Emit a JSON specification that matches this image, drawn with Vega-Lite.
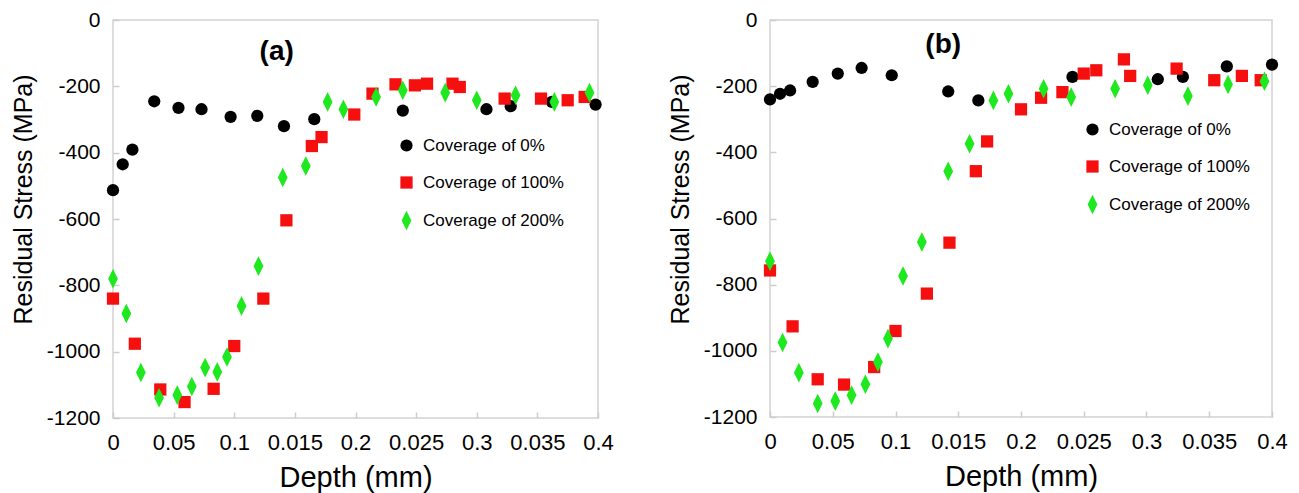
{
  "$schema": "https://vega.github.io/schema/vega-lite/v6.json",
  "background": "white",
  "padding": {"left": 10, "top": 8, "right": 5, "bottom": 0},
  "spacing": 52,
  "config": {
    "font": "Liberation Sans",
    "view": {"stroke": "#d2d2d2", "strokeWidth": 1.5},
    "axis": {
      "labelFont": "Liberation Sans", "labelColor": "#000000",
      "titleFont": "Liberation Sans", "titleFontWeight": "normal", "titleColor": "#000000",
      "domain": false, "grid": false, "ticks": true, "tickColor": "#cccccc", "tickSize": -6, "tickWidth": 1.5
    },
    "legend": {
      "title": null, "orient": "none", "labelFont": "Liberation Sans", "labelFontSize": 17, "labelColor": "#000000",
      "symbolSize": 150, "rowPadding": 19, "labelOffset": 8, "padding": 0
    }
  },
  "datasets": {
    "pts": [
      {"p":"a","s":"Coverage of 0%","d":0,"r":-513},
      {"p":"a","s":"Coverage of 0%","d":0.008,"r":-435},
      {"p":"a","s":"Coverage of 0%","d":0.016,"r":-391},
      {"p":"a","s":"Coverage of 0%","d":0.034,"r":-245},
      {"p":"a","s":"Coverage of 0%","d":0.054,"r":-265},
      {"p":"a","s":"Coverage of 0%","d":0.073,"r":-269},
      {"p":"a","s":"Coverage of 0%","d":0.097,"r":-292},
      {"p":"a","s":"Coverage of 0%","d":0.119,"r":-289},
      {"p":"a","s":"Coverage of 0%","d":0.141,"r":-320},
      {"p":"a","s":"Coverage of 0%","d":0.166,"r":-299},
      {"p":"a","s":"Coverage of 0%","d":0.239,"r":-273},
      {"p":"a","s":"Coverage of 0%","d":0.308,"r":-269},
      {"p":"a","s":"Coverage of 0%","d":0.328,"r":-260},
      {"p":"a","s":"Coverage of 0%","d":0.362,"r":-247},
      {"p":"a","s":"Coverage of 0%","d":0.398,"r":-255},
      {"p":"a","s":"Coverage of 100%","d":0,"r":-840},
      {"p":"a","s":"Coverage of 100%","d":0.018,"r":-976},
      {"p":"a","s":"Coverage of 100%","d":0.039,"r":-1114},
      {"p":"a","s":"Coverage of 100%","d":0.059,"r":-1152},
      {"p":"a","s":"Coverage of 100%","d":0.083,"r":-1112},
      {"p":"a","s":"Coverage of 100%","d":0.1,"r":-983},
      {"p":"a","s":"Coverage of 100%","d":0.124,"r":-840},
      {"p":"a","s":"Coverage of 100%","d":0.143,"r":-604},
      {"p":"a","s":"Coverage of 100%","d":0.164,"r":-380},
      {"p":"a","s":"Coverage of 100%","d":0.172,"r":-353},
      {"p":"a","s":"Coverage of 100%","d":0.199,"r":-285},
      {"p":"a","s":"Coverage of 100%","d":0.214,"r":-222},
      {"p":"a","s":"Coverage of 100%","d":0.233,"r":-194},
      {"p":"a","s":"Coverage of 100%","d":0.249,"r":-197},
      {"p":"a","s":"Coverage of 100%","d":0.259,"r":-192},
      {"p":"a","s":"Coverage of 100%","d":0.28,"r":-192},
      {"p":"a","s":"Coverage of 100%","d":0.286,"r":-202},
      {"p":"a","s":"Coverage of 100%","d":0.323,"r":-237},
      {"p":"a","s":"Coverage of 100%","d":0.353,"r":-237},
      {"p":"a","s":"Coverage of 100%","d":0.375,"r":-242},
      {"p":"a","s":"Coverage of 100%","d":0.389,"r":-232},
      {"p":"a","s":"Coverage of 200%","d":0,"r":-780},
      {"p":"a","s":"Coverage of 200%","d":0.011,"r":-885},
      {"p":"a","s":"Coverage of 200%","d":0.023,"r":-1063},
      {"p":"a","s":"Coverage of 200%","d":0.038,"r":-1139},
      {"p":"a","s":"Coverage of 200%","d":0.053,"r":-1131},
      {"p":"a","s":"Coverage of 200%","d":0.065,"r":-1105},
      {"p":"a","s":"Coverage of 200%","d":0.076,"r":-1048},
      {"p":"a","s":"Coverage of 200%","d":0.086,"r":-1061},
      {"p":"a","s":"Coverage of 200%","d":0.094,"r":-1016},
      {"p":"a","s":"Coverage of 200%","d":0.106,"r":-862},
      {"p":"a","s":"Coverage of 200%","d":0.12,"r":-742},
      {"p":"a","s":"Coverage of 200%","d":0.14,"r":-475},
      {"p":"a","s":"Coverage of 200%","d":0.159,"r":-440},
      {"p":"a","s":"Coverage of 200%","d":0.177,"r":-247},
      {"p":"a","s":"Coverage of 200%","d":0.19,"r":-269},
      {"p":"a","s":"Coverage of 200%","d":0.217,"r":-232},
      {"p":"a","s":"Coverage of 200%","d":0.239,"r":-212},
      {"p":"a","s":"Coverage of 200%","d":0.274,"r":-219},
      {"p":"a","s":"Coverage of 200%","d":0.3,"r":-242},
      {"p":"a","s":"Coverage of 200%","d":0.332,"r":-227},
      {"p":"a","s":"Coverage of 200%","d":0.364,"r":-247},
      {"p":"a","s":"Coverage of 200%","d":0.393,"r":-219},
      {"p":"b","s":"Coverage of 0%","d":0,"r":-240},
      {"p":"b","s":"Coverage of 0%","d":0.008,"r":-223},
      {"p":"b","s":"Coverage of 0%","d":0.016,"r":-213},
      {"p":"b","s":"Coverage of 0%","d":0.034,"r":-187},
      {"p":"b","s":"Coverage of 0%","d":0.054,"r":-162},
      {"p":"b","s":"Coverage of 0%","d":0.073,"r":-145},
      {"p":"b","s":"Coverage of 0%","d":0.097,"r":-167},
      {"p":"b","s":"Coverage of 0%","d":0.142,"r":-216},
      {"p":"b","s":"Coverage of 0%","d":0.166,"r":-243},
      {"p":"b","s":"Coverage of 0%","d":0.241,"r":-172},
      {"p":"b","s":"Coverage of 0%","d":0.309,"r":-179},
      {"p":"b","s":"Coverage of 0%","d":0.329,"r":-172},
      {"p":"b","s":"Coverage of 0%","d":0.364,"r":-140},
      {"p":"b","s":"Coverage of 0%","d":0.4,"r":-135},
      {"p":"b","s":"Coverage of 100%","d":0,"r":-757},
      {"p":"b","s":"Coverage of 100%","d":0.018,"r":-926},
      {"p":"b","s":"Coverage of 100%","d":0.038,"r":-1086},
      {"p":"b","s":"Coverage of 100%","d":0.059,"r":-1102},
      {"p":"b","s":"Coverage of 100%","d":0.083,"r":-1049},
      {"p":"b","s":"Coverage of 100%","d":0.1,"r":-940},
      {"p":"b","s":"Coverage of 100%","d":0.125,"r":-827},
      {"p":"b","s":"Coverage of 100%","d":0.143,"r":-673},
      {"p":"b","s":"Coverage of 100%","d":0.164,"r":-457},
      {"p":"b","s":"Coverage of 100%","d":0.173,"r":-367},
      {"p":"b","s":"Coverage of 100%","d":0.2,"r":-270},
      {"p":"b","s":"Coverage of 100%","d":0.216,"r":-235},
      {"p":"b","s":"Coverage of 100%","d":0.233,"r":-218},
      {"p":"b","s":"Coverage of 100%","d":0.25,"r":-162},
      {"p":"b","s":"Coverage of 100%","d":0.26,"r":-152},
      {"p":"b","s":"Coverage of 100%","d":0.282,"r":-119},
      {"p":"b","s":"Coverage of 100%","d":0.287,"r":-169},
      {"p":"b","s":"Coverage of 100%","d":0.324,"r":-147},
      {"p":"b","s":"Coverage of 100%","d":0.354,"r":-182},
      {"p":"b","s":"Coverage of 100%","d":0.376,"r":-169},
      {"p":"b","s":"Coverage of 100%","d":0.391,"r":-182},
      {"p":"b","s":"Coverage of 200%","d":0,"r":-729},
      {"p":"b","s":"Coverage of 200%","d":0.01,"r":-975},
      {"p":"b","s":"Coverage of 200%","d":0.023,"r":-1066},
      {"p":"b","s":"Coverage of 200%","d":0.038,"r":-1159},
      {"p":"b","s":"Coverage of 200%","d":0.052,"r":-1152},
      {"p":"b","s":"Coverage of 200%","d":0.065,"r":-1134},
      {"p":"b","s":"Coverage of 200%","d":0.076,"r":-1101},
      {"p":"b","s":"Coverage of 200%","d":0.086,"r":-1034},
      {"p":"b","s":"Coverage of 200%","d":0.094,"r":-963},
      {"p":"b","s":"Coverage of 200%","d":0.106,"r":-774},
      {"p":"b","s":"Coverage of 200%","d":0.121,"r":-671},
      {"p":"b","s":"Coverage of 200%","d":0.142,"r":-457},
      {"p":"b","s":"Coverage of 200%","d":0.159,"r":-374},
      {"p":"b","s":"Coverage of 200%","d":0.178,"r":-243},
      {"p":"b","s":"Coverage of 200%","d":0.19,"r":-223},
      {"p":"b","s":"Coverage of 200%","d":0.218,"r":-208},
      {"p":"b","s":"Coverage of 200%","d":0.24,"r":-233},
      {"p":"b","s":"Coverage of 200%","d":0.275,"r":-208},
      {"p":"b","s":"Coverage of 200%","d":0.301,"r":-197},
      {"p":"b","s":"Coverage of 200%","d":0.333,"r":-230},
      {"p":"b","s":"Coverage of 200%","d":0.365,"r":-195},
      {"p":"b","s":"Coverage of 200%","d":0.394,"r":-185}
    ]
  },
  "resolve": {
    "scale": {"color": "independent", "shape": "independent"},
    "legend": {"color": "independent", "shape": "independent"}
  },
  "hconcat": [
    {
      "width": 485, "height": 398,
      "layer": [
        {
          "data": {"name": "pts"},
          "transform": [{"filter": "datum.p == 'a'"}],
          "mark": {"type": "point", "filled": true, "opacity": 1, "size": 150, "clip": false},
          "encoding": {
            "x": {"field": "d", "type": "quantitative", "scale": {"domain": [0, 0.4], "nice": false, "zero": false},
              "axis": {"title": "Depth (mm)", "values": [0, 0.05, 0.1, 0.15, 0.2, 0.25, 0.3, 0.35, 0.4],
                "labelFontSize": 22, "labelPadding": 20, "labelFlush": false, "labelOverlap": false, "titleFontSize": 29, "titlePadding": 10,
                "labelExpr": "abs(datum.value-0.15)<1e-6 ? '0.015' : abs(datum.value-0.25)<1e-6 ? '0.025' : abs(datum.value-0.35)<1e-6 ? '0.035' : '' + datum.value"}},
            "y": {"field": "r", "type": "quantitative", "scale": {"domain": [-1200, 0], "nice": false},
              "axis": {"title": "Residual Stress (MPa)", "values": [-1200, -1000, -800, -600, -400, -200, 0],
                "labelFontSize": 21, "labelPadding": 19, "labelFlush": false, "labelOverlap": false, "titleFontSize": 25, "titlePadding": 10, "titleY": 179,
                "labelExpr": "datum.value == 0 ? '0' : '-' + abs(datum.value)"}},
            "color": {"field": "s", "type": "nominal",
              "scale": {"domain": ["Coverage of 0%", "Coverage of 100%", "Coverage of 200%"], "range": ["#000000", "#f50f0f", "#1ee81e"]},
              "legend": {"legendX": 285, "legendY": 117}},
            "shape": {"field": "s", "type": "nominal",
              "scale": {"domain": ["Coverage of 0%", "Coverage of 100%", "Coverage of 200%"], "range": ["circle", "square", "M0,-1.6L0.8,0L0,1.6L-0.8,0Z"]},
              "legend": {"legendX": 285, "legendY": 117}}
          }
        },
        {
          "data": {"values": [{"label": "(a)"}]},
          "mark": {"type": "text", "fontSize": 28, "fontWeight": "bold", "font": "Liberation Sans", "color": "#000000"},
          "encoding": {
            "x": {"datum": 0.135, "type": "quantitative"},
            "y": {"datum": -96, "type": "quantitative"},
            "text": {"field": "label"}
          }
        }
      ]
    },
    {
      "width": 502, "height": 397,
      "layer": [
        {
          "data": {"name": "pts"},
          "transform": [{"filter": "datum.p == 'b'"}],
          "mark": {"type": "point", "filled": true, "opacity": 1, "size": 150, "clip": false},
          "encoding": {
            "x": {"field": "d", "type": "quantitative", "scale": {"domain": [0, 0.4], "nice": false, "zero": false},
              "axis": {"title": "Depth (mm)", "values": [0, 0.05, 0.1, 0.15, 0.2, 0.25, 0.3, 0.35, 0.4],
                "labelFontSize": 22, "labelPadding": 20, "labelFlush": false, "labelOverlap": false, "titleFontSize": 29, "titlePadding": 10,
                "labelExpr": "abs(datum.value-0.15)<1e-6 ? '0.015' : abs(datum.value-0.25)<1e-6 ? '0.025' : abs(datum.value-0.35)<1e-6 ? '0.035' : '' + datum.value"}},
            "y": {"field": "r", "type": "quantitative", "scale": {"domain": [-1200, 0], "nice": false},
              "axis": {"title": "Residual Stress (MPa)", "values": [-1200, -1000, -800, -600, -400, -200, 0],
                "labelFontSize": 21, "labelPadding": 19, "labelFlush": false, "labelOverlap": false, "titleFontSize": 25, "titlePadding": 10, "titleY": 179,
                "labelExpr": "datum.value == 0 ? '0' : '-' + abs(datum.value)"}},
            "color": {"field": "s", "type": "nominal",
              "scale": {"domain": ["Coverage of 0%", "Coverage of 100%", "Coverage of 200%"], "range": ["#000000", "#f50f0f", "#1ee81e"]},
              "legend": {"legendX": 314, "legendY": 101}},
            "shape": {"field": "s", "type": "nominal",
              "scale": {"domain": ["Coverage of 0%", "Coverage of 100%", "Coverage of 200%"], "range": ["circle", "square", "M0,-1.6L0.8,0L0,1.6L-0.8,0Z"]},
              "legend": {"legendX": 314, "legendY": 101}}
          }
        },
        {
          "data": {"values": [{"label": "(b)"}]},
          "mark": {"type": "text", "fontSize": 28, "fontWeight": "bold", "font": "Liberation Sans", "color": "#000000"},
          "encoding": {
            "x": {"datum": 0.138, "type": "quantitative"},
            "y": {"datum": -76, "type": "quantitative"},
            "text": {"field": "label"}
          }
        }
      ]
    }
  ]
}
